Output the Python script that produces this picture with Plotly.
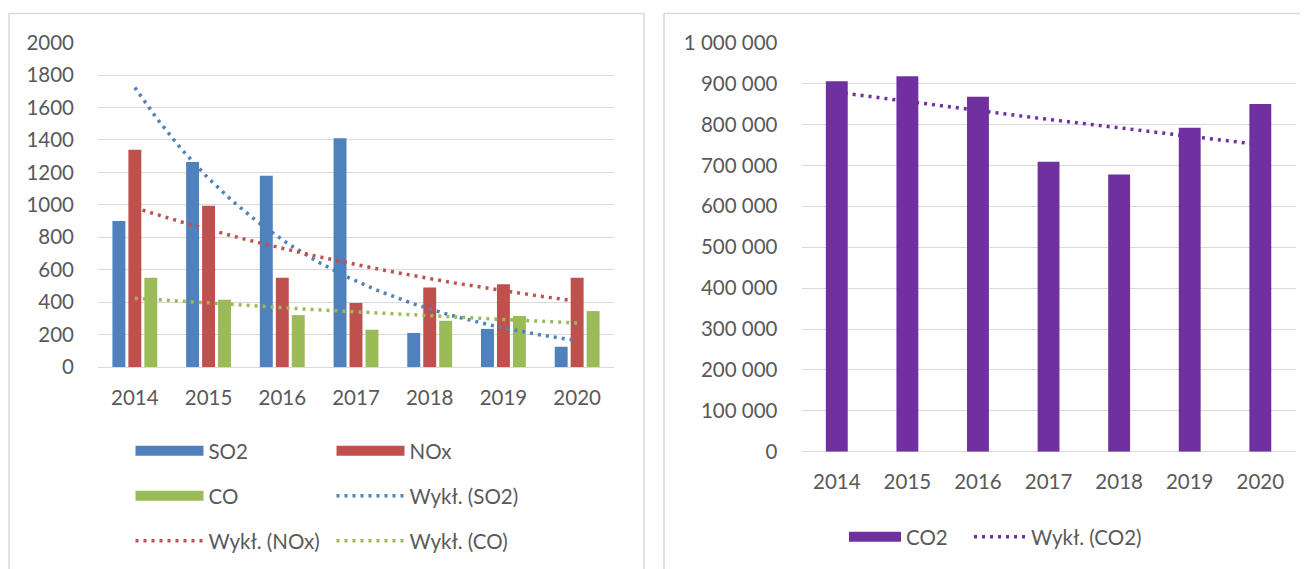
import numpy as np
import plotly.graph_objects as go

# ---------------- data ----------------
years = ["2014", "2015", "2016", "2017", "2018", "2019", "2020"]
so2 = [900, 1265, 1180, 1410, 210, 235, 125]
nox = [1340, 995, 550, 395, 490, 510, 550]
co = [550, 415, 320, 230, 285, 315, 345]
co2 = [906000, 918000, 868000, 709000, 678000, 792000, 850000]

C_SO2 = "#4F81BD"
C_NOX = "#C0504D"
C_CO = "#9BBB59"
C_CO2 = "#7030A0"
TXT = "#595959"
GRID = "#D9D9D9"
FONT = "Lato"

OFF = 8  # page body margin
W, H = 1308 - OFF, 569 - OFF
idx = list(range(len(years)))


def exp_trend(vals, n=121):
    """Excel-style exponential trendline (least squares on ln y)."""
    x = np.arange(len(vals))
    b, ln_a = np.polyfit(x, np.log(vals), 1)
    xs = np.linspace(0, len(vals) - 1, n)
    return xs, np.exp(ln_a + b * xs)


def px(x):
    return (x - OFF) / W


def py(y):
    return 1 - (y - OFF) / H


DOT = "3px,5px"

fig = go.Figure()


def add_bar(name, vals, col, lg, xa, ya, **kw):
    # the bar series itself
    fig.add_trace(go.Bar(x=idx, y=vals, name=name, marker_color=col,
                         xaxis=xa, yaxis=ya, legendgroup=name, showlegend=False, **kw))
    # wide legend swatch (Excel-style) for the same series
    fig.add_trace(go.Scatter(x=[None], y=[None], name=name, mode="lines",
                             line=dict(color=col, width=14), legendgroup=name,
                             xaxis=xa, yaxis=ya, legend=lg, hoverinfo="skip"))


# ---------------- left chart ----------------
add_bar("SO2", so2, C_SO2, "legend", "x", "y")
add_bar("NOx", nox, C_NOX, "legend3", "x", "y")
add_bar("CO", co, C_CO, "legend4", "x", "y")

for name, vals, col, lg in [("Wykł. (SO2)", so2, C_SO2, "legend5"),
                            ("Wykł. (NOx)", nox, C_NOX, "legend6"),
                            ("Wykł. (CO)", co, C_CO, "legend7")]:
    tx, ty = exp_trend(vals)
    fig.add_trace(go.Scatter(x=tx, y=ty, name=name, mode="lines",
                             line=dict(color=col, width=3.5, dash=DOT),
                             xaxis="x", yaxis="y", legend=lg))

# ---------------- right chart ----------------
add_bar("CO2", co2, C_CO2, "legend2", "x2", "y2", width=0.31)
tx, ty = exp_trend(co2)
fig.add_trace(go.Scatter(x=tx, y=ty, name="Wykł. (CO2)", mode="lines",
                         line=dict(color=C_CO2, width=3.5, dash=DOT),
                         xaxis="x2", yaxis="y2", legend="legend8"))

tickfont = dict(family=FONT, size=20.5, color=TXT)

xcommon = dict(range=[-0.5, 6.5], tickmode="array", tickvals=idx, ticktext=years,
               showgrid=False, zeroline=False, showline=False, ticks="",
               tickfont=tickfont, ticklabelstandoff=16, fixedrange=True,
               automargin=False)
ycommon = dict(showgrid=True, gridcolor=GRID, gridwidth=1.3, zeroline=True,
               zerolinecolor=GRID, zerolinewidth=1.3, showline=False, ticks="",
               tickfont=tickfont, ticklabelstandoff=23, fixedrange=True,
               automargin=False)


def leg(xp, yp, iw):
    return dict(orientation="v", font=dict(family=FONT, size=20.5, color=TXT),
                bgcolor="rgba(0,0,0,0)", xanchor="left", yanchor="middle",
                xref="container", yref="container",
                x=px(xp), y=py(yp), itemwidth=iw)


fig.update_layout(
    width=W, height=H,
    template="none",
    margin=dict(l=0, r=0, t=0, b=0, autoexpand=False),
    paper_bgcolor="white", plot_bgcolor="white",
    barmode="group", bargap=0.35, bargroupgap=0.19,
    separators=", ",
    font=dict(family=FONT, color=TXT),
    xaxis=dict(domain=[px(98), px(614)], anchor="y", **xcommon),
    yaxis=dict(domain=[py(367), py(42.7)], anchor="x", range=[0, 2000],
               dtick=200, tickformat="d", **ycommon),
    xaxis2=dict(domain=[px(801.5), px(1295.6)], anchor="y2", **xcommon),
    yaxis2=dict(domain=[py(451.7), py(42.7)], anchor="x2", range=[0, 1000000],
                dtick=100000, tickformat=",d", **ycommon),
    legend=leg(130.5, 451, 68),
    legend3=leg(331.5, 451, 68),
    legend4=leg(130.5, 496, 68),
    legend5=leg(331.5, 496, 68),
    legend6=leg(130.5, 541, 68),
    legend7=leg(331.5, 541, 68),
    legend2=leg(844, 537, 52),
    legend8=leg(969, 537, 52),
    showlegend=True,
    shapes=[
        dict(type="rect", xref="paper", yref="paper", x0=px(9), x1=px(644),
             y0=-0.05, y1=py(13.5), line=dict(color=GRID, width=1.5), layer="below"),
        dict(type="rect", xref="paper", yref="paper", x0=px(664), x1=1.05,
             y0=-0.05, y1=py(13.5), line=dict(color=GRID, width=1.5), layer="below"),
    ],
)

fig.write_html("out.html")
